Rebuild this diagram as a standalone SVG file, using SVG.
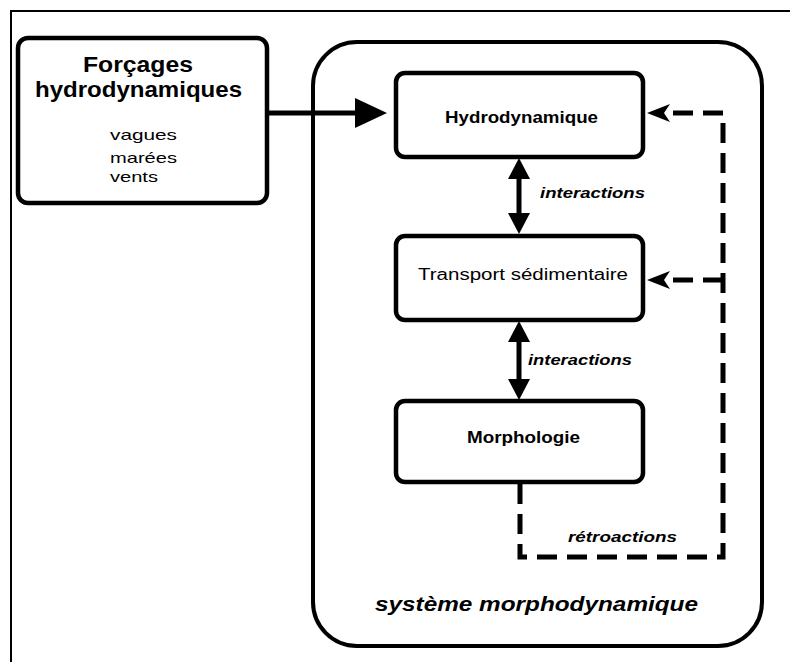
<svg xmlns="http://www.w3.org/2000/svg" width="790" height="662" viewBox="0 0 790 662">
<style>
.box{fill:#fff;stroke:#000;stroke-width:4.5}
.t{font-family:"Liberation Sans",Arial,sans-serif;fill:#000}
.b{font-weight:bold}
.i{font-style:italic}
.solid{fill:none;stroke:#000;stroke-width:5}
.dash{fill:none;stroke:#000;stroke-width:5;stroke-dasharray:20 10}
</style>
<defs>
<marker id="big" markerUnits="userSpaceOnUse" markerWidth="32" markerHeight="30" refX="5" refY="15" orient="auto"><path d="M0,0 L32,15 L0,30 z" fill="#000"/></marker>
<marker id="dbl" markerUnits="userSpaceOnUse" markerWidth="21" markerHeight="22" refX="11" refY="11" orient="auto-start-reverse"><path d="M0,0 L21,11 L0,22 z" fill="#000"/></marker>
<marker id="fb" markerUnits="userSpaceOnUse" markerWidth="23" markerHeight="18" refX="5" refY="9" orient="auto"><path d="M0,0 L23,9 L0,18 L6,9 z" fill="#000"/></marker>
</defs>
<rect width="790" height="662" fill="#fff"/>
<path d="M11,662 V11 H790" fill="none" stroke="#000" stroke-width="2"/>
<g id="systeme">
<rect x="313" y="42" width="449" height="604" rx="44" ry="44" fill="#fff" stroke="#000" stroke-width="4"/>
<text class="t b i" x="375" y="611" font-size="21" textLength="323" lengthAdjust="spacingAndGlyphs">système morphodynamique</text>
</g>
<g id="forcages">
<rect class="box" x="18" y="38" width="249" height="165" rx="10"/>
<text class="t b" x="83" y="72" font-size="22" textLength="110" lengthAdjust="spacingAndGlyphs">Forçages</text>
<text class="t b" x="35" y="97" font-size="22" textLength="207" lengthAdjust="spacingAndGlyphs">hydrodynamiques</text>
<text class="t" x="110" y="140" font-size="15" textLength="67" lengthAdjust="spacingAndGlyphs">vagues</text>
<text class="t" x="110" y="163" font-size="15" textLength="67" lengthAdjust="spacingAndGlyphs">marées</text>
<text class="t" x="110" y="182" font-size="15" textLength="48" lengthAdjust="spacingAndGlyphs">vents</text>
</g>
<g id="hydro">
<rect class="box" x="396" y="73" width="247" height="84" rx="9"/>
<text class="t b" x="445" y="123" font-size="16" textLength="153" lengthAdjust="spacingAndGlyphs">Hydrodynamique</text>
</g>
<g id="transport">
<rect class="box" x="396" y="236" width="247" height="84" rx="9"/>
<text class="t" x="418" y="280" font-size="16" textLength="210" lengthAdjust="spacingAndGlyphs">Transport sédimentaire</text>
</g>
<g id="morpho">
<rect class="box" x="396" y="401" width="247" height="81" rx="9"/>
<text class="t b" x="467" y="443" font-size="16" textLength="113" lengthAdjust="spacingAndGlyphs">Morphologie</text>
</g>
<g id="connectors">
<path class="solid" d="M267,113 H360" marker-end="url(#big)"/>
<path class="solid" d="M519,168 V224" marker-start="url(#dbl)" marker-end="url(#dbl)"/>
<path class="solid" d="M519,331 V390" marker-start="url(#dbl)" marker-end="url(#dbl)"/>
<path class="dash" d="M520,484 V557 H723 V113 H665" marker-end="url(#fb)"/>
<path class="dash" d="M723,280 H665" marker-end="url(#fb)"/>
<text class="t b i" x="540" y="198" font-size="14" textLength="105" lengthAdjust="spacingAndGlyphs">interactions</text>
<text class="t b i" x="528" y="365" font-size="14" textLength="104" lengthAdjust="spacingAndGlyphs">interactions</text>
<text class="t b i" x="568" y="542" font-size="14" textLength="109" lengthAdjust="spacingAndGlyphs">rétroactions</text>
</g>
</svg>
